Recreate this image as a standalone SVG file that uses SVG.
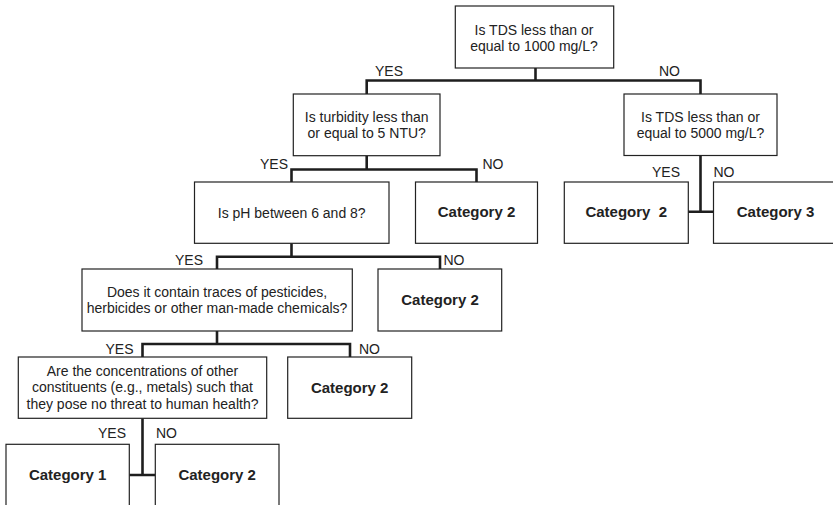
<svg xmlns="http://www.w3.org/2000/svg" width="833" height="505" viewBox="0 0 833 505">
  <style>
    .box { fill: #ffffff; stroke: #222222; stroke-width: 1.2; }
    .q { font-family: "Liberation Sans", Arial, sans-serif; font-size: 14px; fill: #222222; text-anchor: middle; }
    .cat { font-family: "Liberation Sans", Arial, sans-serif; font-size: 15px; font-weight: bold; fill: #222222; text-anchor: middle; }
    .lbl { font-family: "Liberation Sans", Arial, sans-serif; font-size: 14px; fill: #222222; }
    .conn { fill: none; stroke: #1e1e1e; stroke-width: 2.6; stroke-linejoin: miter; stroke-linecap: butt; }
  </style>
  <rect width="833" height="505" fill="#ffffff"/>

  <!-- connectors -->
  <g id="connectors">
    <path class="conn" d="M535.5,68 V80.5 M366.7,94 V80.5 H700.5 V94"/>
    <path class="conn" d="M366.7,155.7 V169.5 M291.5,182 V169.5 H476.5 V182"/>
    <path class="conn" d="M700.5,155.5 V211.7 M688,211.7 H713.5"/>
    <path class="conn" d="M291.5,243.3 V256.7 M217,269 V256.7 H440 V269"/>
    <path class="conn" d="M217,331 V344 M142.5,357 V344 H350 V357"/>
    <path class="conn" d="M142.5,418.3 V475 M129.3,475 H155.3"/>
    <!-- branch labels -->
    <text class="lbl" x="375" y="76">YES</text>
    <text class="lbl" x="659" y="76">NO</text>
    <text class="lbl" x="260" y="168.5">YES</text>
    <text class="lbl" x="482.5" y="168.5">NO</text>
    <text class="lbl" x="652" y="176.7">YES</text>
    <text class="lbl" x="713.5" y="176.7">NO</text>
    <text class="lbl" x="175" y="265">YES</text>
    <text class="lbl" x="443.5" y="265">NO</text>
    <text class="lbl" x="105.5" y="354">YES</text>
    <text class="lbl" x="359" y="354">NO</text>
    <text class="lbl" x="98" y="437.7">YES</text>
    <text class="lbl" x="156" y="437.7">NO</text>
  </g>

  <g id="tds1000">
    <rect class="box" x="455.3" y="6" width="158.4" height="62"/>
    <text class="q" x="534" y="34.5">Is TDS less than or</text>
    <text class="q" x="534" y="51">equal to 1000 mg/L?</text>
  </g>

  <g id="turbidity">
    <rect class="box" x="293.3" y="94" width="146.7" height="61.7"/>
    <text class="q" x="366.7" y="121.5">Is turbidity less than</text>
    <text class="q" x="366.7" y="138">or equal to 5 NTU?</text>
  </g>

  <g id="tds5000">
    <rect class="box" x="624" y="94" width="153" height="61.5"/>
    <text class="q" x="700.5" y="121.5">Is TDS less than or</text>
    <text class="q" x="700.5" y="138">equal to 5000 mg/L?</text>
  </g>

  <g id="ph">
    <rect class="box" x="194.5" y="182" width="194.5" height="61.3"/>
    <text class="q" x="291.7" y="218">Is pH between 6 and 8?</text>
  </g>

  <g id="turbidity-no">
    <rect class="box" x="415.5" y="182" width="122" height="61.3"/>
    <text class="cat" x="476.5" y="217">Category 2</text>
  </g>

  <g id="tds5000-yes">
    <rect class="box" x="564.3" y="182" width="124" height="61.3"/>
    <text class="cat" x="626.3" y="217" xml:space="preserve">Category  2</text>
  </g>

  <g id="tds5000-no">
    <rect class="box" x="713.5" y="182" width="124" height="61.3"/>
    <text class="cat" x="775.5" y="217">Category 3</text>
  </g>

  <g id="chemicals">
    <rect class="box" x="82" y="269" width="270.3" height="62"/>
    <text class="q" x="217" y="296.7">Does it contain traces of pesticides,</text>
    <text class="q" x="217" y="313.3">herbicides or other man-made chemicals?</text>
  </g>

  <g id="ph-no">
    <rect class="box" x="378" y="269" width="123.7" height="62"/>
    <text class="cat" x="440" y="305.4">Category 2</text>
  </g>

  <g id="constituents">
    <rect class="box" x="18.3" y="357" width="248.4" height="61.3"/>
    <text class="q" x="142.5" y="375.7">Are the concentrations of other</text>
    <text class="q" x="142.5" y="392.3">constituents (e.g., metals) such that</text>
    <text class="q" x="142.5" y="409">they pose no threat to human health?</text>
  </g>

  <g id="chemicals-no">
    <rect class="box" x="287.7" y="357" width="124" height="61.3"/>
    <text class="cat" x="349.7" y="393">Category 2</text>
  </g>

  <g id="category1">
    <rect class="box" x="6" y="444.3" width="123.3" height="64"/>
    <text class="cat" x="67.7" y="480.4">Category 1</text>
  </g>

  <g id="constituents-no">
    <rect class="box" x="155.3" y="444.3" width="123.7" height="64"/>
    <text class="cat" x="217.2" y="480.4">Category 2</text>
  </g>
</svg>
